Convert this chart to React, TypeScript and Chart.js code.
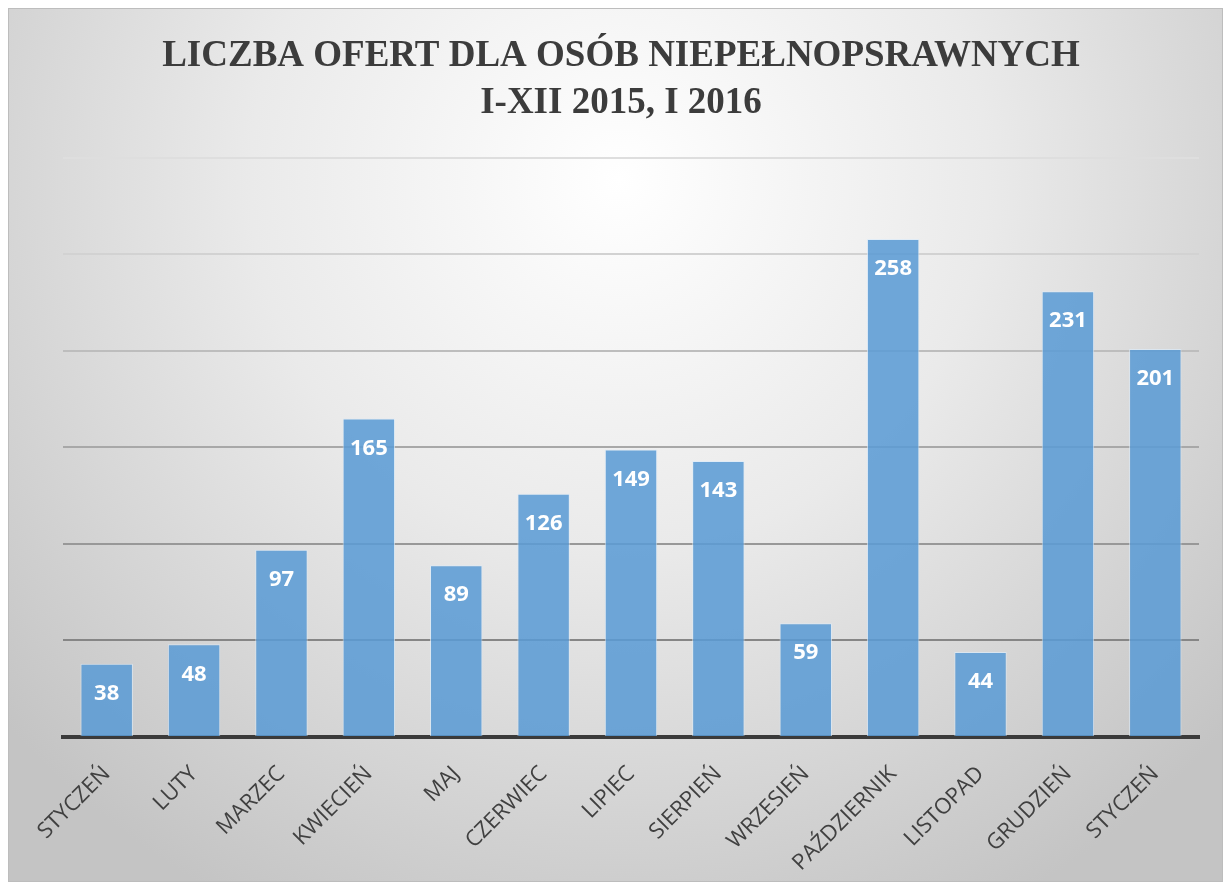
import React, { useEffect, useRef } from "react";
import { Chart, registerables } from "chart.js";

Chart.register(...registerables);

const titleLines = ["LICZBA OFERT DLA OSÓB NIEPEŁNOPSRAWNYCH", "I-XII 2015, I 2016"];
const categories = [
  "STYCZEŃ", "LUTY", "MARZEC", "KWIECIEŃ", "MAJ", "CZERWIEC", "LIPIEC",
  "SIERPIEŃ", "WRZESIEŃ", "PAŹDZIERNIK", "LISTOPAD", "GRUDZIEŃ", "STYCZEŃ",
];
const offers = [38, 48, 97, 165, 89, 126, 149, 143, 59, 258, 44, 231, 201];
const yMin = 0;
const yMax = 300;
const yStep = 50;
const gridColors: Record<number, string> = {
  0: "rgba(0,0,0,0)",
  50: "#868686",
  100: "#989898",
  150: "#a8a8a8",
  200: "#bdbdbd",
  250: "#d2d2d2",
  300: "#dedede",
};

const backgroundPlugin = {
  id: "bgGradient",
  beforeDraw(chart: any) {
    const { ctx, width, height } = chart;
    ctx.save();
    const g = ctx.createRadialGradient(610, 170, 0, 610, 170, 820);
    g.addColorStop(0, "#ffffff");
    g.addColorStop(0.45, "#eaeaea");
    g.addColorStop(1, "#c4c4c4");
    ctx.fillStyle = g;
    ctx.fillRect(0, 0, width, height);
    ctx.restore();
  },
};

const labelPlugin = {
  id: "barLabels",
  afterDatasetsDraw(chart: any) {
    const { ctx } = chart;
    const meta = chart.getDatasetMeta(0);
    ctx.save();
    ctx.fillStyle = "#ffffff";
    ctx.font = "bold 22px 'Open Sans'";
    ctx.textAlign = "center";
    ctx.textBaseline = "middle";
    meta.data.forEach((bar: any, i: number) => {
      ctx.fillText(String(offers[i]), bar.x, bar.y + 30);
    });
    ctx.restore();
  },
};

export default function App() {
  const ref = useRef<HTMLCanvasElement>(null);
  useEffect(() => {
    if (!ref.current) return;
    const chart = new Chart(ref.current, {
      type: "bar",
      data: {
        labels: categories,
        datasets: [
          {
            data: offers,
            backgroundColor: "rgba(91,155,213,0.87)",
            borderColor: "rgba(220,235,250,0.7)",
            borderWidth: 1,
            categoryPercentage: 1,
            barPercentage: 0.6,
          },
        ],
      },
      options: {
        animation: false,
        responsive: true,
        maintainAspectRatio: false,
        layout: { padding: { left: 34, right: 23, top: 0, bottom: 0 } },
        plugins: {
          legend: { display: false },
          tooltip: { enabled: false },
          title: {
            display: true,
            text: titleLines,
            color: "#3c3c3c",
            font: { family: "'Liberation Serif'", size: 37, weight: "bold", lineHeight: 1.27 },
            padding: { top: 24, bottom: 31 },
          },
        },
        scales: {
          x: {
            grid: { display: false },
            border: { display: true, color: "#3a3a3a", width: 4 },
            ticks: {
              color: "#404040",
              font: { family: "'Open Sans'", size: 22 },
              minRotation: 45,
              maxRotation: 45,
              autoSkip: false,
              padding: 16,
            },
            afterFit: (s: any) => {
              s.height = 144;
            },
          },
          y: {
            min: yMin,
            max: yMax,
            ticks: { display: false, stepSize: yStep },
            border: { display: false },
            grid: {
              drawTicks: false,
              lineWidth: 2,
              color: (c: any) => gridColors[c.tick?.value] ?? "#cccccc",
            },
            afterFit: (s: any) => {
              s.width = 20;
            },
          },
        },
      },
      plugins: [backgroundPlugin, labelPlugin],
    });
    return () => chart.destroy();
  }, []);
  return (
    <div style={{ width: 1215, height: 874, border: "1px solid #bdbdbd", boxSizing: "border-box" }}>
      <canvas ref={ref} />
    </div>
  );
}
